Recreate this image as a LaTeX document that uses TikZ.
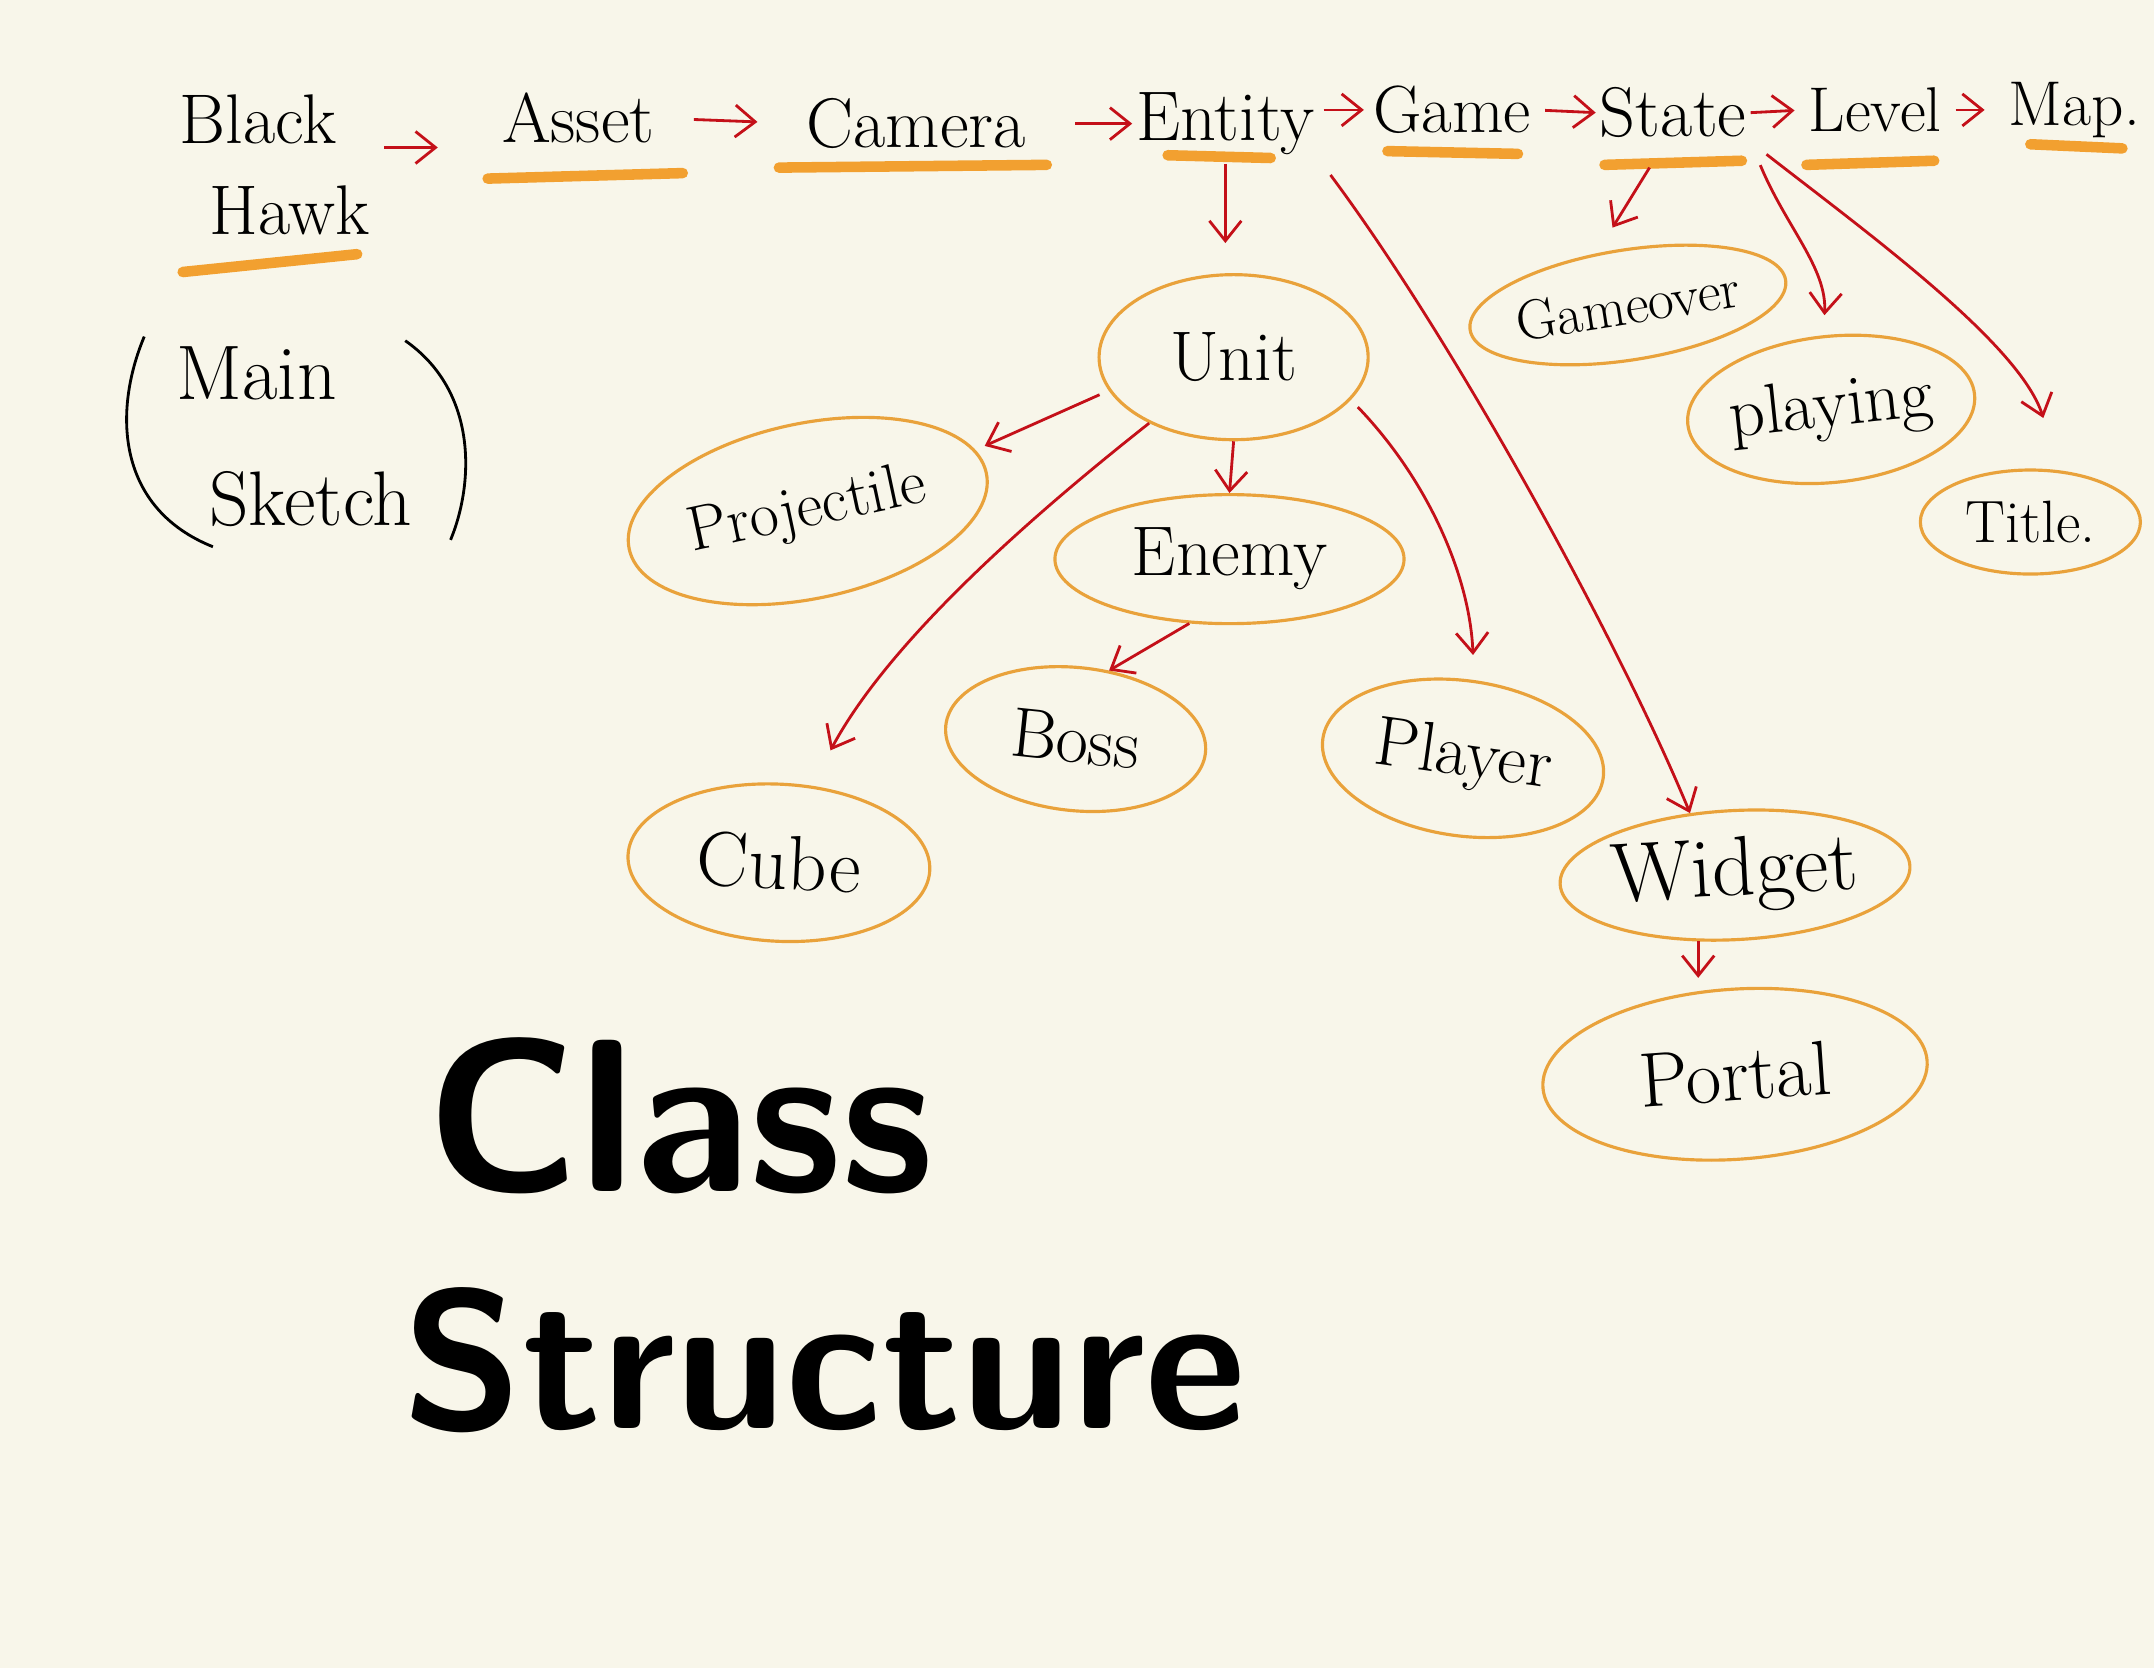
\documentclass[tikz,border=0pt]{standalone}
\usepackage{tikz}
\usetikzlibrary{shapes.geometric, arrows.meta, positioning}

\definecolor{paper}{HTML}{F8F6EA}
\definecolor{marker}{HTML}{F2A030}
\definecolor{ring}{HTML}{E9A23B}
\definecolor{pen}{HTML}{C41019}

\tikzset{
  word/.style={inner sep=1pt, font=\fontsize{20}{22}\selectfont},
  cls/.style={ellipse, draw=ring, line width=0.9pt, inner sep=0pt,
    font=\fontsize{20}{22}\selectfont},
  arr/.style={->, draw=pen, line width=0.8pt},
  uline/.style={draw=marker, line width=3pt, line cap=round},
}

\begin{document}
\begin{tikzpicture}[x=0.013737cm, y=-0.013737cm,
    >={Straight Barb[length=2mm, width=3.2mm]}]
    % paper
    \fill[paper] (0,0) rectangle (1568,1214);
    \useasboundingbox (0,0) rectangle (1568,1214);

    % 1. top row of classes
    \node[word, align=center] (blackhawk) at (188,120) {Black\\[4pt]\hspace*{0.9em}Hawk};
    \node[word] (asset)  at (421,86) {Asset};
    \node[word] (camera) at (667,90) {Camera};
    \node[word] (entity) at (892,90) {Entity};
    \node[word, font=\fontsize{19}{22}\selectfont] (game)  at (1057,80) {Game};
    \node[word] (state)  at (1218,82) {State};
    \node[word, font=\fontsize{18}{22}\selectfont] (level) at (1365,80) {Level};
    \node[word, font=\fontsize{18}{22}\selectfont] (map)   at (1510,80) {Map.};

    \draw[arr, shorten <=0.1cm, shorten >=0.6cm] (blackhawk.east |- asset.south west) -- (asset.south west);
    \draw[arr, shorten <=0.35cm, shorten >=0.45cm] (asset.east) -- (camera.west);
    \draw[arr, shorten <=0.45cm] (camera.east) -- (entity.west);
    \draw[arr, shorten <=0.05cm, shorten >=0.05cm] (entity.east |- game.west) -- (game.west);
    \draw[arr, shorten <=0.1cm] (game.east) -- (state.west);
    \draw[arr, shorten >=0.1cm] (state.east) -- (level.west);
    \draw[arr, shorten <=0.1cm, shorten >=0.2cm] (level.east) -- (map.west);

    % 2. orange marker strokes
    \draw[uline] (133,198) -- (260,185);
    \draw[uline] (355,130) -- (497,126);
    \draw[uline] (567,122) -- (762,120);
    \draw[uline] (850,113) -- (925,115);
    \draw[uline] (1010,110) -- (1105,112);
    \draw[uline] (1168,120) -- (1268,117);
    \draw[uline] (1315,120) -- (1408,117);
    \draw[uline] (1478,105) -- (1545,108);

    % 3. (Main Sketch)
    \node[word, align=center, font=\fontsize{22}{24}\selectfont] (mainsketch) at (215,318)
        {Main\hspace*{1.0em}\\[12pt]\hspace*{0.4em}Sketch};
    \draw[line width=0.8pt] (105,245) .. controls (82,300) and (85,370) .. (155,398);
    \draw[line width=0.8pt] (295,248) .. controls (348,285) and (345,352) .. (328,393);

    % 4. class bubbles
    \node[cls, minimum width=2.69cm, minimum height=1.65cm] (unit) at (898,260) {Unit};
    \node[cls, minimum width=3.65cm, minimum height=1.75cm, rotate=12,
        font=\fontsize{18}{22}\selectfont] (projectile) at (588,372) {Projectile};
    \node[cls, minimum width=3.49cm, minimum height=1.29cm] (enemy) at (895,407) {Enemy};
    \node[cls, minimum width=2.61cm, minimum height=1.43cm, rotate=-6] (boss) at (783,538) {Boss};
    \node[cls, minimum width=3.02cm, minimum height=1.57cm, rotate=-3,
        font=\fontsize{22}{24}\selectfont] (cube) at (567,628) {Cube};
    \node[cls, minimum width=2.83cm, minimum height=1.55cm, rotate=-8] (player) at (1065,552) {Player};
    \node[cls, minimum width=3.30cm, minimum height=1.29cm, rotate=3,
        font=\fontsize{24}{26}\selectfont] (widget) at (1263,637) {Widget};
    \node[cls, minimum width=3.85cm, minimum height=1.70cm, rotate=4,
        font=\fontsize{22}{24}\selectfont] (portal) at (1263,782) {Portal};
    \node[cls, minimum width=3.08cm, minimum height=1.10cm, rotate=9,
        font=\fontsize{16}{18}\selectfont] (gameover) at (1185,222) {Gameover};
    \node[cls, minimum width=2.83cm, minimum height=1.46cm, rotate=6] (playing) at (1333,298) {playing};
    \node[cls, minimum width=2.20cm, minimum height=1.04cm,
        font=\fontsize{17}{20}\selectfont] (title) at (1478,380) {Title.};

    % 5. red arrows between classes
    \draw[arr, shorten <=0.05cm, shorten >=0.3cm] (entity.south) -- (entity.south |- unit.north);
    \draw[arr, shorten <=0.1cm, shorten >=0.1cm] (unit.195) -- (projectile.8);
    \draw[arr] (unit.south) -- (enemy.north);
    \draw[arr, shorten >=0.4cm] (unit.218) .. controls (720,400) and (640,480) .. (cube.70);
    \draw[arr] (enemy.238) -- (boss.70);
    \draw[arr, shorten <=0.1cm, shorten >=0.25cm] (unit.340) .. controls (1040,350) and (1070,420) .. (player.north);
    \draw[arr, shorten <=0.2cm] (entity.south east) .. controls (1060,250) and (1180,470) .. (widget.123);
    \draw[arr, shorten >=0.1cm] (widget.238) -- (widget.238 |- portal.north);
    \draw[arr, shorten <=0.3cm, shorten >=0.3cm] (state.255) -- (gameover.112);
    \draw[arr, shorten <=0.25cm, shorten >=0.2cm] (state.south east) .. controls (1300,165) and (1330,195) .. (playing.north);
    \draw[arr, shorten <=0.2cm, shorten >=0.55cm] (state.south east) .. controls (1360,170) and (1470,250) .. (title.60);

    % 6. big heading
    \node[font=\sffamily\bfseries\fontsize{62}{70}\selectfont] (class) at (495,812) {Class};
    \node[font=\sffamily\bfseries\fontsize{56}{62}\selectfont] (structure) at (600,990) {Structure};
\end{tikzpicture}
\end{document}
